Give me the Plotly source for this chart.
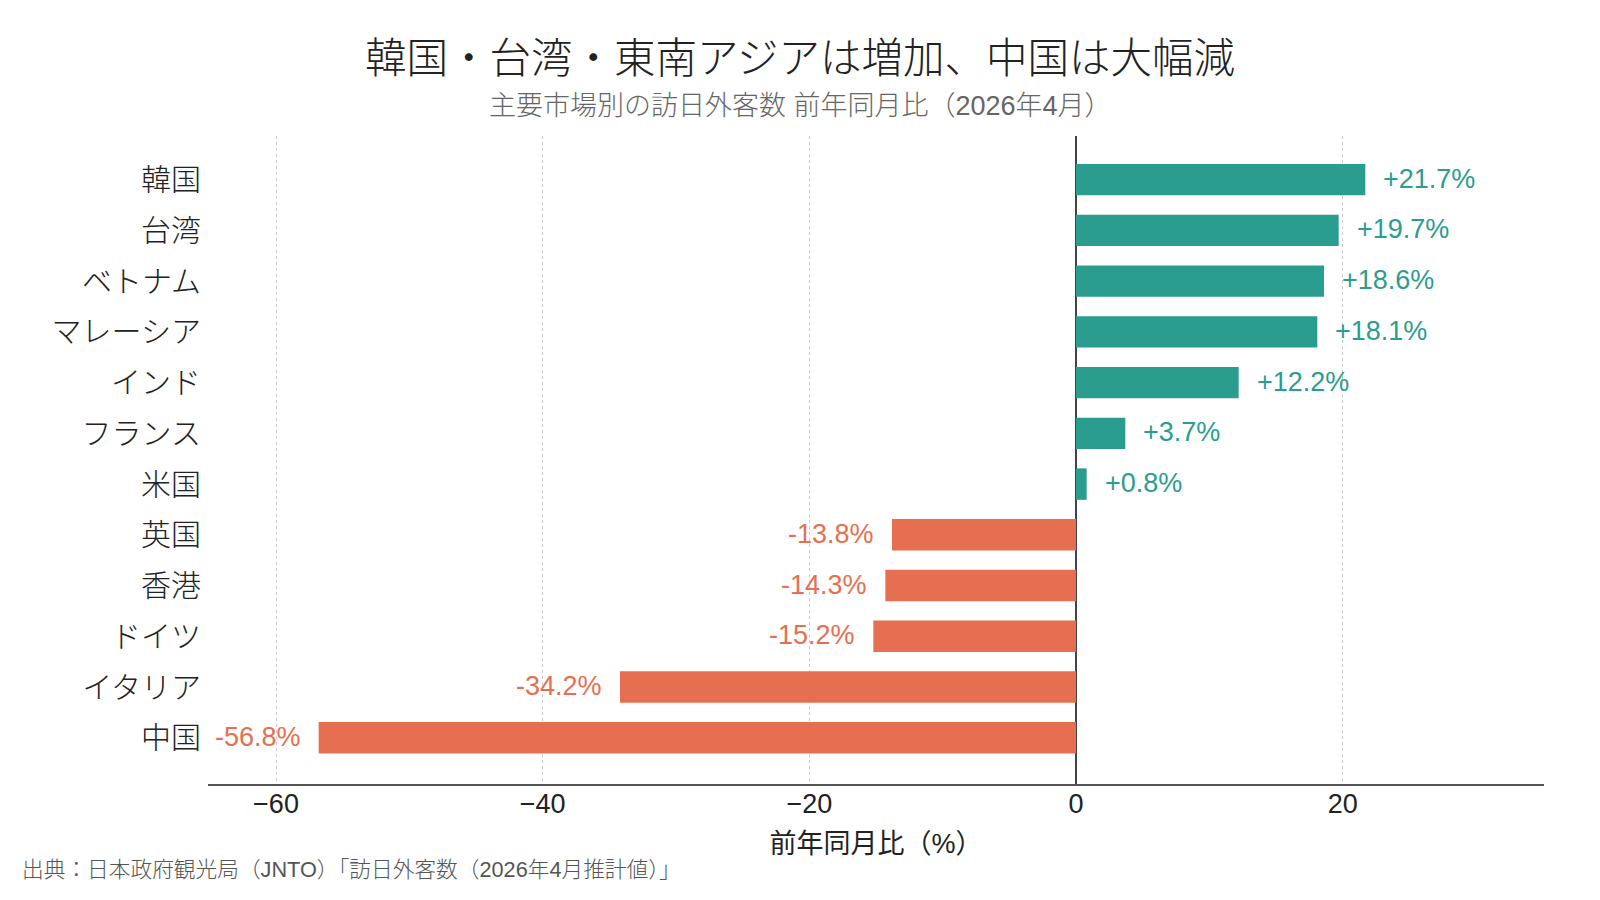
import plotly.graph_objects as go

countries = ["韓国", "台湾", "ベトナム", "マレーシア", "インド", "フランス", "米国",
             "英国", "香港", "ドイツ", "イタリア", "中国"]
yoy = [21.7, 19.7, 18.6, 18.1, 12.2, 3.7, 0.8, -13.8, -14.3, -15.2, -34.2, -56.8]
x_ticks = [-60, -40, -20, 0, 20]

TEAL = "#2a9d8f"
CORAL = "#e76f51"
FONT = "Liberation Sans, Noto Sans CJK JP, sans-serif"

W, H = 1600, 900
L, R, T, B = 208, 56, 136, 116
PW, PH = W - L - R, H - T - B


def px_x(px):
    return (px - L) / PW


def px_y(py):
    return (H - B - py) / PH


colors = [TEAL if v >= 0 else CORAL for v in yoy]
labels = [f"+{v:.1f}%" if v >= 0 else f"{v:.1f}%" for v in yoy]

fig = go.Figure()
fig.add_trace(go.Bar(
    x=yoy, y=countries, orientation="h",
    marker=dict(color=colors, line=dict(width=0)),
    width=0.62, hoverinfo="skip",
))

for c, v, t, col in zip(countries, yoy, labels, colors):
    fig.add_annotation(
        x=v, y=c, xref="x", yref="y", text=t, showarrow=False,
        xanchor="left" if v >= 0 else "right",
        xshift=16 if v >= 0 else -16, yshift=1,
        yanchor="middle",
        font=dict(family=FONT, size=27, color=col),
    )

fig.add_annotation(
    x=px_x(800), y=px_y(106), xref="paper", yref="paper",
    text="主要市場別の訪日外客数 前年同月比（2026年4月）",
    showarrow=False, xanchor="center", yanchor="middle",
    font=dict(family=FONT, size=27, color="#666666", weight=300),
)
fig.add_annotation(
    x=px_x(20), y=px_y(869), xref="paper", yref="paper",
    text="出典：日本政府観光局（JNTO）「訪日外客数（2026年4月推計値）」",
    showarrow=False, xanchor="left", yanchor="middle",
    font=dict(family=FONT, size=21.7, color="#555555", weight=300),
)

fig.update_layout(
    width=W, height=H,
    margin=dict(l=L, r=R, t=T, b=B),
    paper_bgcolor="white", plot_bgcolor="white",
    showlegend=False,
    font=dict(family=FONT, color="#222222"),
    title=dict(
        text="韓国・台湾・東南アジアは増加、中国は大幅減",
        x=0.5, xref="container", xanchor="center",
        y=1 - 58 / H, yref="container", yanchor="middle",
        font=dict(family=FONT, size=41.5, color="#222222", weight=300),
    ),
    xaxis=dict(
        range=[-65.1, 35.1],
        tickvals=x_ticks,
        tickfont=dict(family=FONT, size=27, color="#222222"),
        showgrid=True, gridcolor="#cccccc", griddash="dot", gridwidth=1,
        zeroline=True, zerolinecolor="#444444", zerolinewidth=1.5,
        showline=True, linecolor="#555555", linewidth=1.5,
        ticks="", fixedrange=True, ticklabelstandoff=-5,
        title=dict(text="前年同月比（%）", standoff=16,
                   font=dict(family=FONT, size=27, color="#222222")),
    ),
    yaxis=dict(
        type="category",
        range=[11.91, -0.86],
        tickfont=dict(family=FONT, size=30, color="#222222", weight=300),
        showgrid=False, showline=False, zeroline=False,
        ticks="", ticklabelstandoff=6,
    ),
)

fig.write_html("out.html")
